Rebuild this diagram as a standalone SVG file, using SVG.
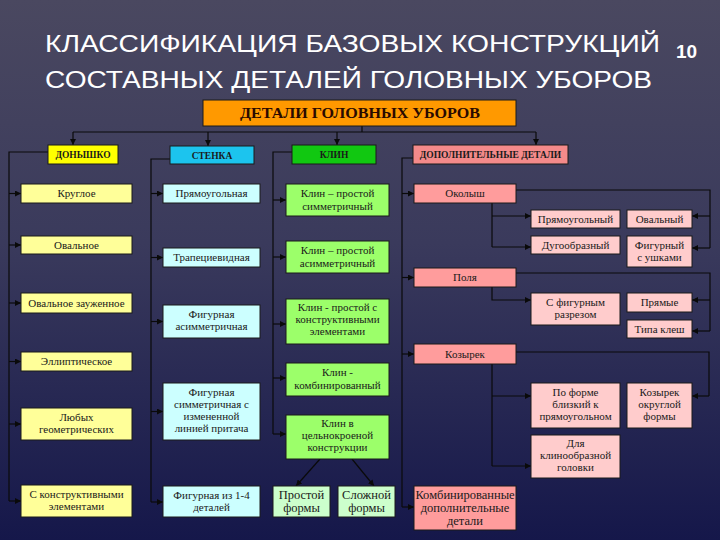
<svg xmlns="http://www.w3.org/2000/svg" width="720" height="540" viewBox="0 0 720 540">
<defs>
<linearGradient id="bg" x1="0" y1="0" x2="0" y2="1">
<stop offset="0" stop-color="#4a4860"/>
<stop offset="0.45" stop-color="#3a3a5c"/>
<stop offset="1" stop-color="#15174a"/>
</linearGradient>
<marker id="ar" viewBox="0 0 8 8" refX="8" refY="4" markerWidth="6" markerHeight="6" markerUnits="userSpaceOnUse" orient="auto">
<path d="M0,0 L8,4 L0,8 Z" fill="#0a0a0a"/>
</marker>
<style>
.box{stroke:#1a1a1a;stroke-width:1}
text{font-family:'Liberation Serif','DejaVu Serif','Times New Roman',serif}
.t{font-size:11px;fill:#1a1a1a;text-anchor:middle}
.tb{font-size:9.5px;font-weight:bold;fill:#1a1a1a;text-anchor:middle}
.tl{font-size:12.5px;fill:#1a1a1a;text-anchor:middle}
.ttl{font-family:'Liberation Sans',Arial,sans-serif;fill:#ffffff}
.ln{fill:none;stroke:#0a0a0a;stroke-width:1.2}
.la{fill:none;stroke:#0a0a0a;stroke-width:1.2;marker-end:url(#ar)}
.y1{fill:#ffff00}.y2{fill:#ffff99}
.c1{fill:#1cc4ee}.c2{fill:#ccffff}
.g1{fill:#11c811}.g2{fill:#9cff6a}.g3{fill:#ccffcc}
.p1{fill:#f48a8a}.p2{fill:#ff9c9c}.p3{fill:#ffcccc}
</style>
</defs>
<rect width="720" height="540" fill="url(#bg)"/>
<g id="title">
<text class="ttl" x="45" y="52" font-size="24" textLength="615" lengthAdjust="spacingAndGlyphs">КЛАССИФИКАЦИЯ БАЗОВЫХ КОНСТРУКЦИЙ</text>
<text class="ttl" x="45" y="88" font-size="24" textLength="607" lengthAdjust="spacingAndGlyphs">СОСТАВНЫХ ДЕТАЛЕЙ ГОЛОВНЫХ УБОРОВ</text>
<text class="ttl" x="676" y="58" font-size="19" font-weight="bold">10</text>
</g>
<g id="connectors">
<path class="ln" d="M362,126 V132 M73,132 H536"/>
<path class="la" d="M73,132 V145"/>
<path class="la" d="M208,132 V146"/>
<path class="la" d="M337,132 V145"/>
<path class="la" d="M536,132 V145"/>
<path class="ln" d="M48,152 H9 V501"/>
<path class="la" d="M9,193.5 H21"/>
<path class="la" d="M9,245 H21"/>
<path class="la" d="M9,303 H21"/>
<path class="la" d="M9,361.5 H21"/>
<path class="la" d="M9,424 H21"/>
<path class="la" d="M9,501 H21"/>
<path class="ln" d="M170,159 H151 V502"/>
<path class="la" d="M151,193.5 H163"/>
<path class="la" d="M151,257.5 H163"/>
<path class="la" d="M151,321.5 H163"/>
<path class="la" d="M151,411.5 H163"/>
<path class="la" d="M151,502 H163"/>
<path class="ln" d="M292,152 H273 V434"/>
<path class="la" d="M273,200 H286"/>
<path class="la" d="M273,257 H286"/>
<path class="la" d="M273,324 H286"/>
<path class="la" d="M273,378 H286"/>
<path class="la" d="M273,434 H286"/>
<path class="la" d="M320,459 L296,486"/>
<path class="la" d="M352,459 L374,486"/>
<path class="ln" d="M413,158 H402 V507"/>
<path class="la" d="M402,193.5 H414"/>
<path class="la" d="M402,277.5 H414"/>
<path class="la" d="M402,354 H414"/>
<path class="la" d="M402,507 H414"/>
<path class="ln" d="M492,203 V247"/>
<path class="la" d="M492,216 H531"/>
<path class="la" d="M492,247 H531"/>
<path class="ln" d="M516,190 H710 V248"/>
<path class="la" d="M710,216 H692"/>
<path class="la" d="M710,248 H692"/>
<path class="la" d="M492,287 V300 H531"/>
<path class="ln" d="M516,273 H710 V331"/>
<path class="la" d="M710,300 H692"/>
<path class="la" d="M710,331 H692"/>
<path class="ln" d="M492,364 V466"/>
<path class="la" d="M492,396 H531"/>
<path class="la" d="M492,466 H531"/>
<path class="ln" d="M516,352 H709 V396"/>
<path class="la" d="M709,396 H692"/>
</g>
<g id="header">
<rect class="box" x="203" y="100" width="313" height="26" fill="#ff9900"/>
<text x="360" y="118" font-size="14" font-weight="bold" fill="#2a0a00" text-anchor="middle" textLength="240" lengthAdjust="spacingAndGlyphs">ДЕТАЛИ ГОЛОВНЫХ УБОРОВ</text>
</g>
<g id="donyshko">
<rect class="box y1" x="48" y="145" width="70" height="19"/>
<text class="tb" x="83" y="158">ДОНЫШКО</text>
</g>
<g id="stenka">
<rect class="box c1" x="170" y="146" width="84" height="18"/>
<text class="tb" x="212" y="158.5">СТЕНКА</text>
</g>
<g id="klin">
<rect class="box g1" x="292" y="145" width="84" height="19"/>
<text class="tb" x="334" y="158">КЛИН</text>
</g>
<g id="dop">
<rect class="box p1" x="413" y="145" width="155" height="19"/>
<text class="tb" x="490.5" y="158">ДОПОЛНИТЕЛЬНЫЕ ДЕТАЛИ</text>
</g>
<g id="d1"><rect class="box y2" x="21" y="184" width="111" height="19"/><text class="t" x="76.5" y="197">Круглое</text></g>
<g id="d2"><rect class="box y2" x="21" y="236" width="111" height="18"/><text class="t" x="76.5" y="249">Овальное</text></g>
<g id="d3"><rect class="box y2" x="21" y="293" width="111" height="20"/><text class="t" x="76.5" y="306.5" font-size="10.5">Овальное зауженное</text></g>
<g id="d4"><rect class="box y2" x="21" y="352" width="111" height="19"/><text class="t" x="76.5" y="365">Эллиптическое</text></g>
<g id="d5"><rect class="box y2" x="21" y="408" width="111" height="32"/><text class="t" x="76.5" y="421">Любых</text><text class="t" x="76.5" y="433">геометрических</text></g>
<g id="d6"><rect class="box y2" x="21" y="485" width="111" height="32"/><text class="t" x="76.5" y="498">С конструктивными</text><text class="t" x="76.5" y="510">элементами</text></g>
<g id="s1"><rect class="box c2" x="163" y="184" width="97" height="19"/><text class="t" x="211.5" y="197">Прямоугольная</text></g>
<g id="s2"><rect class="box c2" x="163" y="248" width="97" height="19"/><text class="t" x="211.5" y="261">Трапециевидная</text></g>
<g id="s3"><rect class="box c2" x="163" y="305" width="97" height="33"/><text class="t" x="211.5" y="318">Фигурная</text><text class="t" x="211.5" y="330">асимметричная</text></g>
<g id="s4"><rect class="box c2" x="163" y="383" width="97" height="57"/><text class="t" x="211.5" y="396">Фигурная</text><text class="t" x="211.5" y="408">симметричная с</text><text class="t" x="211.5" y="420">измененной</text><text class="t" x="211.5" y="432">линией притача</text></g>
<g id="s5"><rect class="box c2" x="163" y="486" width="97" height="31"/><text class="t" x="211.5" y="499">Фигурная из 1-4</text><text class="t" x="211.5" y="511">деталей</text></g>
<g id="k1"><rect class="box g2" x="286" y="184" width="103" height="32"/><text class="t" x="337.5" y="197">Клин – простой</text><text class="t" x="337.5" y="210">симметричный</text></g>
<g id="k2"><rect class="box g2" x="286" y="241" width="103" height="32"/><text class="t" x="337.5" y="254">Клин – простой</text><text class="t" x="337.5" y="267">асимметричный</text></g>
<g id="k3"><rect class="box g2" x="286" y="299" width="103" height="45"/><text class="t" x="337.5" y="311">Клин - простой с</text><text class="t" x="337.5" y="323">конструктивными</text><text class="t" x="337.5" y="335">элементами</text></g>
<g id="k4"><rect class="box g2" x="286" y="363" width="103" height="33"/><text class="t" x="337.5" y="376">Клин -</text><text class="t" x="337.5" y="389">комбинированный</text></g>
<g id="k5"><rect class="box g2" x="286" y="415" width="103" height="44"/><text class="t" x="337.5" y="427">Клин в</text><text class="t" x="337.5" y="439">цельнокроеной</text><text class="t" x="337.5" y="451">конструкции</text></g>
<g id="k6"><rect class="box g3" x="273" y="486" width="57" height="31"/><text class="tl" x="301.5" y="499">Простой</text><text class="tl" x="301.5" y="512">формы</text></g>
<g id="k7"><rect class="box g3" x="338" y="486" width="57" height="31"/><text class="tl" x="366.5" y="499">Сложной</text><text class="tl" x="366.5" y="512">формы</text></g>
<g id="o1"><rect class="box p2" x="414" y="184" width="102" height="19"/><text class="t" x="465" y="197">Околыш</text></g>
<g id="o2"><rect class="box p2" x="414" y="268" width="102" height="19"/><text class="t" x="465" y="281">Поля</text></g>
<g id="o3"><rect class="box p2" x="414" y="344" width="102" height="20"/><text class="t" x="465" y="357.5" font-size="10">Козырек</text></g>
<g id="o4"><rect class="box p2" x="414" y="486" width="102" height="44"/><text class="tl" x="465" y="499">Комбинированные</text><text class="tl" x="465" y="512">дополнительные</text><text class="tl" x="465" y="525">детали</text></g>
<g id="a1"><rect class="box p3" x="531" y="210" width="89" height="18"/><text class="t" x="575.5" y="222.5">Прямоугольный</text></g>
<g id="a2"><rect class="box p3" x="627" y="210" width="65" height="18"/><text class="t" x="659.5" y="222.5">Овальный</text></g>
<g id="a3"><rect class="box p3" x="531" y="236" width="89" height="18"/><text class="t" x="575.5" y="248.5">Дугообразный</text></g>
<g id="a4"><rect class="box p3" x="627" y="236" width="65" height="31"/><text class="t" x="659.5" y="248.5">Фигурный</text><text class="t" x="659.5" y="260.5">с ушками</text></g>
<g id="a5"><rect class="box p3" x="531" y="293" width="89" height="32"/><text class="t" x="575.5" y="306">С фигурным</text><text class="t" x="575.5" y="318">разрезом</text></g>
<g id="a6"><rect class="box p3" x="627" y="293" width="65" height="19"/><text class="t" x="659.5" y="306">Прямые</text></g>
<g id="a7"><rect class="box p3" x="627" y="320" width="65" height="18"/><text class="t" x="659.5" y="332.5">Типа клеш</text></g>
<g id="a8"><rect class="box p3" x="531" y="383" width="89" height="45"/><text class="t" x="575.5" y="395.5">По форме</text><text class="t" x="575.5" y="407.5">близкий к</text><text class="t" x="575.5" y="419.5">прямоугольном</text></g>
<g id="a9"><rect class="box p3" x="627" y="383" width="65" height="45"/><text class="t" x="659.5" y="395.5">Козырек</text><text class="t" x="659.5" y="407.5">округлой</text><text class="t" x="659.5" y="419.5">формы</text></g>
<g id="a10"><rect class="box p3" x="531" y="435" width="89" height="43"/><text class="t" x="575.5" y="447">Для</text><text class="t" x="575.5" y="459">клинообразной</text><text class="t" x="575.5" y="471">головки</text></g>
</svg>
